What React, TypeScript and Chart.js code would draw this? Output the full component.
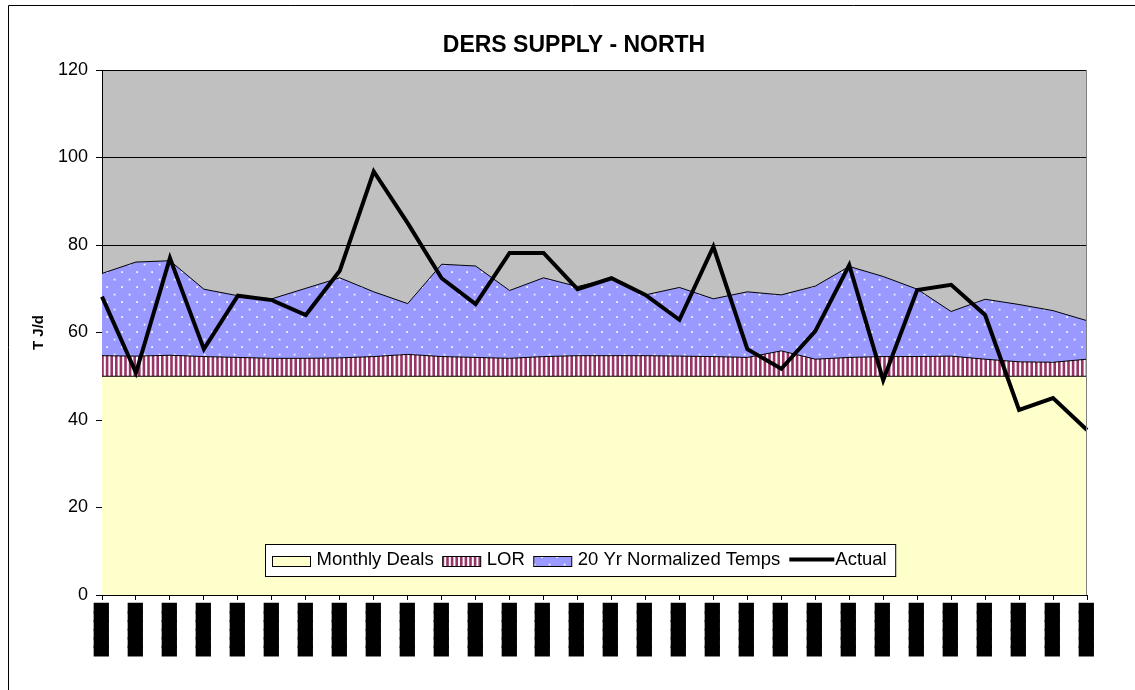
import React, { useEffect, useRef } from "react";
import { Chart, registerables } from "chart.js";

Chart.register(...registerables);

// ---- data ----
const categories: string[] = Array.from({ length: 30 }, () => "██████");

const monthlyDeals: number[] = [
  50, 50, 50, 50, 50, 50, 50, 50, 50, 50, 50, 50, 50, 50, 50,
  50, 50, 50, 50, 50, 50, 50, 50, 50, 50, 50, 50, 50, 50, 50,
];

const lor: number[] = [
  4.7, 4.6, 4.8, 4.5, 4.3, 4.1, 4.1, 4.2, 4.5, 5.0, 4.5, 4.3, 4.1, 4.5, 4.7,
  4.7, 4.7, 4.6, 4.5, 4.3, 5.8, 3.9, 4.3, 4.5, 4.5, 4.6, 3.9, 3.3, 3.2, 3.9,
];

const normalizedTemps: number[] = [
  18.8, 21.5, 21.6, 15.4, 14.1, 13.6, 16.0, 18.3, 14.8, 11.6, 21.1, 20.9, 15.5, 18.0, 15.8,
  17.7, 13.9, 15.7, 13.2, 15.0, 12.8, 16.7, 20.8, 18.3, 15.4, 10.2, 13.7, 13.1, 11.8, 8.8,
];

const actual: number[] = [
  68.2, 50.8, 77.0, 56.2, 68.4, 67.4, 64.0, 74.1, 96.8, 85.0, 72.4, 66.5, 78.2, 78.2, 69.9,
  72.4, 68.6, 62.9, 79.6, 56.2, 51.7, 60.3, 75.4, 49.1, 69.7, 70.9, 64.0, 42.3, 45.0, 37.7,
];

const yMin = 0;
const yMax = 120;
const yStep = 20;

const titleText = "DERS SUPPLY - NORTH";
const yTitleText = "T J/d";
const seriesNames = ["Monthly Deals", "LOR", "20 Yr Normalized Temps", "Actual"];

// ---- patterns ----
function makeStripePattern(): CanvasPattern | string {
  const c = document.createElement("canvas");
  c.width = 23;
  c.height = 4;
  const g = c.getContext("2d");
  if (!g) return "#993366";
  g.fillStyle = "#ffffff";
  g.fillRect(0, 0, 23, 4);
  g.fillStyle = "#993366";
  for (let i = 0; i < 5; i++) {
    g.fillRect(i * 4.6, 0, 2.6, 4);
  }
  return g.createPattern(c, "repeat") || "#993366";
}

function makeDotPattern(): CanvasPattern | string {
  const c = document.createElement("canvas");
  c.width = 15;
  c.height = 15;
  const g = c.getContext("2d");
  if (!g) return "#9999FF";
  g.fillStyle = "#9999FF";
  g.fillRect(0, 0, 15, 15);
  g.fillStyle = "rgba(255,255,255,0.9)";
  g.fillRect(1.2, 1.2, 1.8, 1.8);
  g.fillRect(8.7, 8.7, 1.8, 1.8);
  return g.createPattern(c, "repeat") || "#9999FF";
}

const FONT = "'Liberation Sans', Arial, sans-serif";

export default function App() {
  const canvasRef = useRef<HTMLCanvasElement | null>(null);

  useEffect(() => {
    const canvas = canvasRef.current;
    if (!canvas) return;
    const stripes = makeStripePattern();
    const dots = makeDotPattern();

    const decor = {
      id: "decor",
      beforeDraw(chart: any) {
        const { ctx, chartArea: a } = chart;
        ctx.save();
        // outer chart frame (left and top only visible)
        ctx.strokeStyle = "#000";
        ctx.lineWidth = 1;
        ctx.beginPath();
        ctx.moveTo(8.5, 690);
        ctx.lineTo(8.5, 5.5);
        ctx.lineTo(1135, 5.5);
        ctx.stroke();
        ctx.fillStyle = "#C0C0C0";
        ctx.fillRect(a.left, a.top, a.right - a.left, a.bottom - a.top);
        ctx.restore();
      },
      afterDraw(chart: any) {
        const { ctx, chartArea: a } = chart;
        ctx.save();
        // right edge of plot area
        ctx.strokeStyle = "#808080";
        ctx.lineWidth = 1;
        ctx.beginPath();
        ctx.moveTo(Math.round(a.right) - 0.5, a.top);
        ctx.lineTo(Math.round(a.right) - 0.5, a.bottom);
        ctx.stroke();

        // title
        ctx.fillStyle = "#000";
        ctx.font = `bold 23px ${FONT}`;
        ctx.textAlign = "center";
        ctx.textBaseline = "alphabetic";
        ctx.fillText(titleText, 574, 52);

        // y title
        ctx.save();
        ctx.translate(39, (a.top + a.bottom) / 2);
        ctx.rotate(-Math.PI / 2);
        ctx.font = `bold 15px ${FONT}`;
        ctx.textAlign = "center";
        ctx.textBaseline = "middle";
        ctx.fillText(yTitleText, 0, 0);
        ctx.restore();

        // legend
        ctx.font = `18.5px ${FONT}`;
        const boxL = 265.5;
        const boxT = 544.5;
        const boxH = 32;
        const swY = 556.5;
        const swH = 10;
        const textY = 565;
        let x = 272.5;
        const items: { label: string; kind: string }[] = [
          { label: seriesNames[0], kind: "yellow" },
          { label: seriesNames[1], kind: "stripe" },
          { label: seriesNames[2], kind: "dots" },
          { label: seriesNames[3], kind: "line" },
        ];
        let total = 0;
        items.forEach((it, i) => {
          const sw = it.kind === "line" ? 45 : 38;
          const gap = it.kind === "line" ? 1 : 6;
          total += sw + gap + ctx.measureText(it.label).width + (i < items.length - 1 ? 9 : 0);
        });
        const boxR = x + total + 9;
        ctx.fillStyle = "#ffffff";
        ctx.fillRect(boxL, boxT, boxR - boxL, boxH);
        ctx.strokeStyle = "#000";
        ctx.lineWidth = 1;
        ctx.strokeRect(boxL, boxT, boxR - boxL, boxH);

        items.forEach((it) => {
          if (it.kind === "line") {
            ctx.strokeStyle = "#000";
            ctx.lineWidth = 4;
            ctx.beginPath();
            ctx.moveTo(x, 559.5);
            ctx.lineTo(x + 45, 559.5);
            ctx.stroke();
            x += 45 + 1;
          } else {
            ctx.fillStyle =
              it.kind === "yellow" ? "#FFFFCC" : it.kind === "stripe" ? (stripes as any) : (dots as any);
            ctx.fillRect(x, swY, 38, swH);
            ctx.strokeStyle = "#000";
            ctx.lineWidth = 1;
            ctx.strokeRect(x, swY, 38, swH);
            x += 38 + 6;
          }
          ctx.fillStyle = "#000";
          ctx.textAlign = "left";
          ctx.textBaseline = "alphabetic";
          ctx.fillText(it.label, x, textY);
          x += ctx.measureText(it.label).width + 9;
        });
        ctx.restore();
      },
    };

    const chart = new Chart(canvas, {
      type: "line",
      data: {
        labels: categories,
        datasets: [
          {
            label: seriesNames[0],
            data: monthlyDeals,
            stack: "areas",
            fill: "origin",
            backgroundColor: "#FFFFCC",
            borderColor: "#000",
            borderWidth: 1,
            pointRadius: 0,
            order: 1,
          },
          {
            label: seriesNames[1],
            data: lor,
            stack: "areas",
            fill: "-1",
            backgroundColor: stripes as any,
            borderColor: "#000",
            borderWidth: 1,
            pointRadius: 0,
            order: 1,
          },
          {
            label: seriesNames[2],
            data: normalizedTemps,
            stack: "areas",
            fill: "-1",
            backgroundColor: dots as any,
            borderColor: "#000",
            borderWidth: 1,
            pointRadius: 0,
            order: 1,
          },
          {
            label: seriesNames[3],
            data: actual,
            stack: "actual",
            fill: false,
            borderColor: "#000",
            borderWidth: 4,
            pointRadius: 0,
            order: 0,
          },
        ],
      },
      options: {
        animation: false,
        responsive: false,
        devicePixelRatio: 1,
        layout: { padding: { top: 70, right: 48, bottom: 0, left: 0 } },
        elements: { line: { tension: 0 }, point: { radius: 0 } },
        plugins: {
          legend: { display: false },
          title: { display: false },
          tooltip: { enabled: false },
        },
        scales: {
          x: {
            type: "category",
            offset: false,
            grid: {
              drawOnChartArea: false,
              drawTicks: true,
              tickLength: 5,
              color: "#000",
            },
            border: { color: "#000", width: 1 },
            ticks: {
              autoSkip: false,
              minRotation: 90,
              maxRotation: 90,
              padding: 4,
              color: "#000",
              textStrokeColor: "#000",
              textStrokeWidth: 2,
              font: { family: "'DejaVu Sans'", size: 11.2 },
            },
            afterFit(scale: any) {
              scale.height = 95;
            },
          },
          y: {
            stacked: true,
            min: yMin,
            max: yMax,
            ticks: {
              stepSize: yStep,
              padding: 8,
              color: "#000",
              font: { family: FONT, size: 18 },
            },
            grid: {
              color: "#000",
              lineWidth: 1,
              drawTicks: true,
              tickLength: 6,
            },
            border: { color: "#000", width: 1 },
            afterFit(scale: any) {
              scale.width = 102;
            },
          },
        },
      },
      plugins: [decor],
    });

    return () => {
      chart.destroy();
    };
  }, []);

  return (
    <div
      style={{
        position: "fixed",
        left: 0,
        top: 0,
        width: 1135,
        height: 690,
        overflow: "hidden",
        background: "#fff",
      }}
    >
      <canvas
        ref={canvasRef}
        width={1135}
        height={690}
        style={{ position: "absolute", left: 0, top: 0 }}
      />
    </div>
  );
}
